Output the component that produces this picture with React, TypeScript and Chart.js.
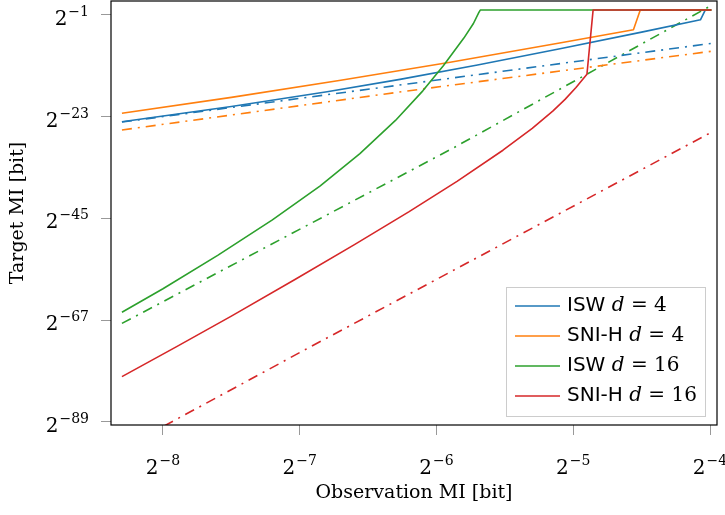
import React, { useEffect, useRef } from "react";
import { Chart, registerables } from "chart.js";

Chart.register(...registerables);

// axis ticks (log2 values) and axis extents
const xTicks = [-8, -7, -6, -5, -4];
const yTicks = [-1, -23, -45, -67, -89];
const xRange = [-8.38, -3.949];
const yRange = [-89.65, 1.96];

const legendNames = ["ISW", "SNI-H", "ISW", "SNI-H"];
const legendDims = ["4", "4", "16", "16"];
const palette = ["#1f77b4", "#ff7f0e", "#2ca02c", "#d62728"];

// solid curves: log2(observation MI) -> log2(target MI)
const iswD4X = [-8.3, -7.5, -6.8, -6.267, -5.7, -5.097, -4.5, -4.07, -4.035, -3.99];
const iswD4Y = [-24.13, -20.85, -17.63, -14.97, -11.85, -8.35, -4.77, -2.1, 0, 0];
const sniD4X = [-8.3, -7.5, -6.7, -5.9, -5.1, -4.56, -4.51, -3.99];
const sniD4Y = [-22.3, -18.86, -15.18, -11.26, -7.1, -4.24, 0, 0];
const iswD16X = [-8.3, -8.0, -7.6, -7.2, -6.85, -6.56, -6.3, -6.1, -5.95, -5.8, -5.73, -5.69, -5.68, -3.99];
const iswD16Y = [-65.3, -60.2, -53.0, -45.32, -37.97, -31.0, -23.85, -17.45, -12.05, -6.05, -2.9, -0.5, 0, 0];
const sniD16X = [-8.3, -7.9, -7.5, -7.035, -6.6, -6.2, -5.85, -5.514, -5.3, -5.15, -5.06, -4.98, -4.9, -4.855, -3.99];
const sniD16Y = [-79.2, -72.72, -66.12, -58.2, -50.67, -43.55, -37.0, -30.28, -25.57, -21.82, -19.3, -16.74, -13.86, 0, 0];

// dash-dotted bounds
const iswD4BoundX = [-8.3, -6.27, -3.99];
const iswD4BoundY = [-24.2, -16.2, -7.2];
const sniD4BoundX = [-8.3, -6.27, -3.99];
const sniD4BoundY = [-25.9, -17.7, -8.9];
const iswD16BoundX = [-8.3, -5.89, -3.99];
const iswD16BoundY = [-67.7, -30.0, 1.0];
const sniD16BoundX = [-8.3, -7.0, -3.99];
const sniD16BoundY = [-94.8, -74.0, -26.4];

const SERIF = '"DejaVu Serif", serif';
const SANS = '"DejaVu Sans", sans-serif';

function drawPower(ctx: CanvasRenderingContext2D, exp: number, x: number, baseY: number, align: "center" | "right") {
  const baseFont = `20px ${SERIF}`;
  const supFont = `14px ${SERIF}`;
  const expText = (exp < 0 ? "\u2212" : "") + Math.abs(exp);
  ctx.font = baseFont;
  const w1 = ctx.measureText("2").width;
  ctx.font = supFont;
  const w2 = ctx.measureText(expText).width;
  const gap = 1;
  const total = w1 + gap + w2;
  const left = align === "center" ? x - total / 2 : x - total;
  ctx.textAlign = "left";
  ctx.textBaseline = "alphabetic";
  ctx.font = baseFont;
  ctx.fillText("2", left, baseY);
  ctx.font = supFont;
  ctx.fillText(expText, left + w1 + gap, baseY - 9);
}

export default function App() {
  const ref = useRef<HTMLCanvasElement>(null);

  useEffect(() => {
    const canvas = ref.current!;
    const zip = (xs: number[], ys: number[]) => xs.map((x, i) => ({ x, y: ys[i] }));
    const solid = [zip(iswD4X, iswD4Y), zip(sniD4X, sniD4Y), zip(iswD16X, iswD16Y), zip(sniD16X, sniD16Y)];
    const bounds = [
      zip(iswD4BoundX, iswD4BoundY),
      zip(sniD4BoundX, sniD4BoundY),
      zip(iswD16BoundX, iswD16BoundY),
      zip(sniD16BoundX, sniD16BoundY),
    ];
    const datasets: any[] = [];
    solid.forEach((d, i) =>
      datasets.push({
        label: `${legendNames[i]} d = ${legendDims[i]}`,
        data: d,
        showLine: true,
        borderColor: palette[i],
        backgroundColor: palette[i],
        borderWidth: 1.6,
        borderJoinStyle: "round",
        pointRadius: 0,
        tension: 0,
        order: 4 - i,
      })
    );
    bounds.forEach((d, i) =>
      datasets.push({
        label: "",
        data: d,
        showLine: true,
        borderColor: palette[i],
        backgroundColor: palette[i],
        borderWidth: 1.6,
        borderDash: [10, 6, 2, 6],
        pointRadius: 0,
        tension: 0,
        order: 10 + i,
      })
    );

    const decor = {
      id: "decor",
      afterDatasetsDraw(chart: any) {
        const { ctx, chartArea: a } = chart;
        ctx.save();
        // frame
        ctx.strokeStyle = "#000";
        ctx.lineWidth = 1.2;
        ctx.strokeRect(a.left, a.top, a.right - a.left, a.bottom - a.top);
        // legend
        const bx = 506, by = 287, bw = 199, bh = 129;
        ctx.fillStyle = "rgba(255,255,255,0.9)";
        ctx.fillRect(bx, by, bw, bh);
        ctx.strokeStyle = "#cccccc";
        ctx.lineWidth = 1;
        ctx.strokeRect(bx + 0.5, by + 0.5, bw, bh);
        for (let i = 0; i < 4; i++) {
          const y = 306 + i * 30;
          ctx.strokeStyle = palette[i];
          ctx.lineWidth = 1.6;
          ctx.setLineDash([]);
          ctx.beginPath();
          ctx.moveTo(515, y);
          ctx.lineTo(560, y);
          ctx.stroke();
          ctx.fillStyle = "#000";
          ctx.textBaseline = "middle";
          ctx.textAlign = "left";
          let x = 567;
          ctx.font = `20px ${SANS}`;
          const name = legendNames[i] + " ";
          ctx.fillText(name, x, y);
          x += ctx.measureText(name).width;
          ctx.font = `italic 20px ${SERIF}`;
          ctx.fillText("d", x, y);
          x += ctx.measureText("d").width;
          ctx.font = `20px ${SERIF}`;
          const rest = " = " + legendDims[i];
          ctx.fillText(rest, x, y);
        }
        ctx.restore();
      },
      afterDraw(chart: any) {
        const { ctx, scales } = chart;
        ctx.save();
        ctx.fillStyle = "#000";
        xTicks.forEach((v) => drawPower(ctx, v, scales.x.getPixelForValue(v), 474, "center"));
        yTicks.forEach((v) => drawPower(ctx, v, 89, scales.y.getPixelForValue(v) + 10, "right"));
        ctx.font = `19px ${SERIF}`;
        ctx.textAlign = "center";
        ctx.textBaseline = "middle";
        ctx.fillText("Observation MI [bit]", (chart.chartArea.left + chart.chartArea.right) / 2, 493);
        ctx.translate(18, 213);
        ctx.rotate(-Math.PI / 2);
        ctx.fillText("Target MI [bit]", 0, 0);
        ctx.restore();
      },
    };

    const chart = new Chart(canvas, {
      type: "scatter",
      data: { datasets },
      options: {
        animation: false,
        responsive: false,
        devicePixelRatio: 1,
        layout: { padding: { left: 0, right: 8, top: 1, bottom: 0 } },
        plugins: { legend: { display: false }, tooltip: { enabled: false } },
        scales: {
          x: {
            type: "linear",
            min: xRange[0],
            max: xRange[1],
            afterBuildTicks: (s: any) => {
              s.ticks = xTicks.map((v) => ({ value: v }));
            },
            afterFit: (s: any) => {
              s.height = 90;
            },
            ticks: { display: false },
            grid: { drawOnChartArea: false, drawTicks: true, tickLength: 10, color: "#999999", lineWidth: 1 },
            border: { display: false },
          },
          y: {
            type: "linear",
            min: yRange[0],
            max: yRange[1],
            afterBuildTicks: (s: any) => {
              s.ticks = yTicks.map((v) => ({ value: v }));
            },
            afterFit: (s: any) => {
              s.width = 111;
            },
            ticks: { display: false },
            grid: { drawOnChartArea: false, drawTicks: true, tickLength: 10, color: "#999999", lineWidth: 1 },
            border: { display: false },
          },
        },
      } as any,
      plugins: [decor],
    });
    return () => chart.destroy();
  }, []);

  return (
    <div style={{ position: "absolute", left: 0, top: 0, width: 725, height: 515, background: "#fff" }}>
      <canvas ref={ref} width={725} height={515} style={{ display: "block" }} />
    </div>
  );
}
